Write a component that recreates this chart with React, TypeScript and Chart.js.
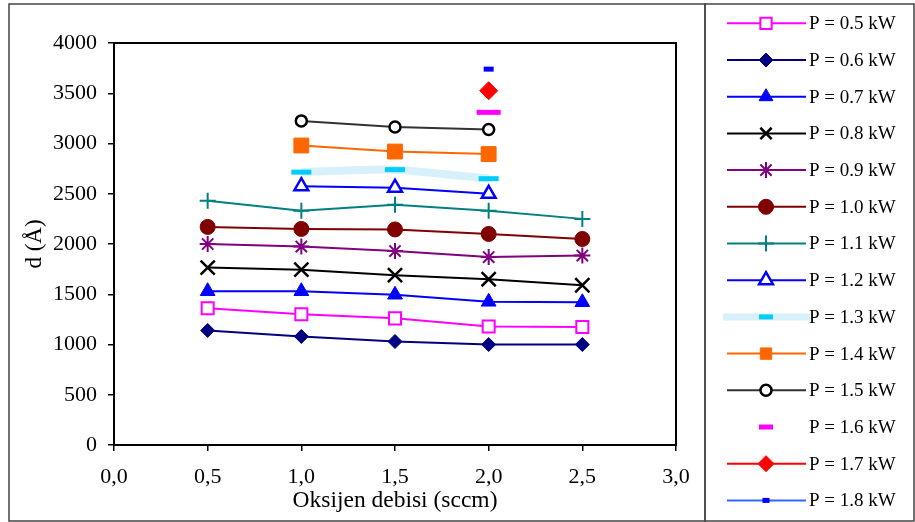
import React, { useEffect, useRef } from 'react';
import { Chart, registerables } from 'chart.js';
import { drawPoint } from 'chart.js/helpers';

Chart.register(...registerables);

// ---- data ----
const oxygenFlow = [0.5, 1.0, 1.5, 2.0, 2.5];
const xTicks = [0, 0.5, 1.0, 1.5, 2.0, 2.5, 3.0];
const yTicks = [0, 500, 1000, 1500, 2000, 2500, 3000, 3500, 4000];

const p05 = [1360, 1300, 1260, 1180, 1175];
const p06 = [1140, 1080, 1030, 1000, 1000];
const p07 = [1530, 1530, 1495, 1425, 1420];
const p08 = [1765, 1745, 1690, 1650, 1590];
const p09 = [2000, 1975, 1930, 1870, 1885];
const p10 = [2170, 2150, 2145, 2100, 2050];
const p11 = [2430, 2330, 2390, 2330, 2250];
const p12 = [null, 2575, 2560, 2500, null];
const p13 = [null, 2715, 2740, 2650, null];
const p14 = [null, 2980, 2920, 2895, null];
const p15 = [null, 3225, 3165, 3140, null];
const p16 = [null, null, null, 3310, null];
const p17 = [null, null, null, 3525, null];
const p18 = [null, null, null, 3740, null];

const seriesLabels = [
  'P = 0.5 kW', 'P = 0.6 kW', 'P = 0.7 kW', 'P = 0.8 kW', 'P = 0.9 kW',
  'P = 1.0 kW', 'P = 1.1 kW', 'P = 1.2 kW', 'P = 1.3 kW', 'P = 1.4 kW',
  'P = 1.5 kW', 'P = 1.6 kW', 'P = 1.7 kW', 'P = 1.8 kW',
];
const seriesValues = [p05, p06, p07, p08, p09, p10, p11, p12, p13, p14, p15, p16, p17, p18];

// ---- styles ----
type Style = {
  line: string; lineWidth: number; showLine: boolean; tension?: number;
  pointStyle: string; radius: number; bg: string; border: string; bw: number;
  legendRadius?: number; legendLineFrom?: number; legendLineTo?: number;
};
const styles: Style[] = [
  { line: '#ff00ff', lineWidth: 2, showLine: true, pointStyle: 'rect', radius: 8.5, bg: '#ffffff', border: '#ff00ff', bw: 2 },
  { line: '#000080', lineWidth: 2, showLine: true, pointStyle: 'rectRot', radius: 7, bg: '#000080', border: '#000080', bw: 1 },
  { line: '#0000ff', lineWidth: 2, showLine: true, pointStyle: 'triangle', radius: 8.5, bg: '#0000ff', border: '#0000ff', bw: 1 },
  { line: '#000000', lineWidth: 2, showLine: true, pointStyle: 'crossRot', radius: 10, bg: '#000000', border: '#000000', bw: 2.5 },
  { line: '#800080', lineWidth: 2, showLine: true, pointStyle: 'star', radius: 8, bg: '#800080', border: '#800080', bw: 2 },
  { line: '#800000', lineWidth: 2, showLine: true, pointStyle: 'circle', radius: 7.5, bg: '#800000', border: '#800000', bw: 1 },
  { line: '#008080', lineWidth: 2, showLine: true, pointStyle: 'cross', radius: 8, bg: '#008080', border: '#008080', bw: 2 },
  { line: '#0000ff', lineWidth: 2, showLine: true, pointStyle: 'triangle', radius: 8, bg: '#ffffff', border: '#0000ff', bw: 2.5 },
  { line: '#d6f1fb', lineWidth: 8, showLine: true, tension: 0.2, pointStyle: 'line', radius: 10, bg: '#00ccff', border: '#00ccff', bw: 5, legendRadius: 7, legendLineFrom: 723, legendLineTo: 810 },
  { line: '#ff6600', lineWidth: 2, showLine: true, pointStyle: 'rect', radius: 10.5, bg: '#ff6600', border: '#ff6600', bw: 1 },
  { line: '#333333', lineWidth: 2, showLine: true, pointStyle: 'circle', radius: 5.5, bg: '#ffffff', border: '#000000', bw: 2.5 },
  { line: '#ff00ff', lineWidth: 2, showLine: false, pointStyle: 'line', radius: 12, bg: '#ff00ff', border: '#ff00ff', bw: 5, legendRadius: 7 },
  { line: '#ff0000', lineWidth: 2, showLine: true, pointStyle: 'rectRot', radius: 9, bg: '#ff0000', border: '#ff0000', bw: 1, legendRadius: 8 },
  { line: '#3366ff', lineWidth: 2, showLine: true, pointStyle: 'line', radius: 5, bg: '#0000ff', border: '#0000ff', bw: 5, legendRadius: 3.5 },
];

const FONT = '"Liberation Serif", "Times New Roman", serif';

const framePlugin = {
  id: 'frameAndLegend',
  afterDraw(chart: any) {
    const ctx = chart.ctx as CanvasRenderingContext2D;
    const { left, top, right, bottom } = chart.chartArea;
    ctx.save();
    // plot box
    ctx.strokeStyle = '#000';
    ctx.lineWidth = 2;
    ctx.strokeRect(left, top, right - left, bottom - top);
    // outer chart and legend frames
    ctx.strokeStyle = '#444';
    ctx.lineWidth = 1.5;
    ctx.strokeRect(9, 4, 696, 517);
    ctx.strokeRect(705, 4, 209, 517);
    // legend
    const ds = chart.data.datasets;
    for (let i = 0; i < ds.length; i++) {
      const st = styles[i];
      const y = 23.3 + i * 36.7;
      if (st.showLine) {
        ctx.strokeStyle = st.line;
        ctx.lineWidth = st.lineWidth === 8 ? 7 : st.lineWidth;
        ctx.beginPath();
        ctx.moveTo(st.legendLineFrom ?? 727, y);
        ctx.lineTo(st.legendLineTo ?? 806, y);
        ctx.stroke();
      }
      ctx.fillStyle = st.bg;
      ctx.strokeStyle = st.border;
      ctx.lineWidth = st.bw;
      drawPoint(ctx, {
        pointStyle: st.pointStyle as any,
        radius: st.legendRadius ?? Math.min(st.radius, 8),
        borderWidth: st.bw,
        rotation: 0,
      } as any, 766, y);
      ctx.fillStyle = '#000';
      ctx.font = `19px ${FONT}`;
      ctx.textAlign = 'left';
      ctx.textBaseline = 'middle';
      ctx.fillText(seriesLabels[i], 809, y + 1);
    }
    ctx.restore();
  },
};

export default function App() {
  const ref = useRef<HTMLCanvasElement | null>(null);
  useEffect(() => {
    if (!ref.current) return;
    const datasets = seriesValues.map((vals, i) => {
      const st = styles[i];
      return {
        label: seriesLabels[i],
        data: oxygenFlow
          .map((x, j) => ({ x, y: vals[j] }))
          .filter((p) => p.y !== null),
        borderColor: st.line,
        borderWidth: st.lineWidth,
        showLine: st.showLine,
        tension: st.tension ?? 0,
        pointStyle: st.pointStyle,
        pointRadius: st.radius,
        pointBackgroundColor: st.bg,
        pointBorderColor: st.border,
        pointBorderWidth: st.bw,
        fill: false,
      };
    });
    const chart = new Chart(ref.current, {
      type: 'line',
      data: { datasets: datasets as any },
      options: {
        responsive: false,
        animation: false,
        events: [],
        layout: { padding: { left: 14, top: 43, right: 239, bottom: 7 } },
        plugins: { legend: { display: false }, tooltip: { enabled: false } },
        scales: {
          x: {
            type: 'linear',
            min: 0,
            max: 3,
            afterFit: (s: any) => { s.height = 70; },
            afterBuildTicks: (s: any) => { s.ticks = xTicks.map((v) => ({ value: v })); },
            ticks: {
              color: '#000',
              font: { family: FONT, size: 22 },
              padding: 13,
              maxRotation: 0,
              autoSkip: false,
              callback: (v: any) => Number(v).toFixed(1).replace('.', ','),
            },
            grid: { drawOnChartArea: false, tickLength: 6, color: '#000', lineWidth: 1.5 },
            border: { color: '#000', width: 2 },
            title: {
              display: true,
              text: 'Oksijen debisi (sccm)',
              color: '#000',
              font: { family: FONT, size: 23.5 },
              padding: { top: 0, bottom: 0 },
            },
          },
          y: {
            type: 'linear',
            min: 0,
            max: 4000,
            afterFit: (s: any) => { s.width = 100; },
            afterBuildTicks: (s: any) => { s.ticks = yTicks.map((v) => ({ value: v })); },
            ticks: {
              color: '#000',
              font: { family: FONT, size: 22 },
              padding: 11,
              autoSkip: false,
              callback: (v: any) => String(v),
            },
            grid: { drawOnChartArea: false, tickLength: 6, color: '#000', lineWidth: 1.5 },
            border: { color: '#000', width: 2 },
            title: {
              display: true,
              text: 'd (Å)',
              color: '#000',
              font: { family: FONT, size: 23 },
              padding: { top: 7, bottom: 0 },
            },
          },
        },
      },
      plugins: [framePlugin],
    });
    return () => chart.destroy();
  }, []);
  return (
    <div style={{ position: 'fixed', left: 0, top: 0, width: 915, height: 522, background: '#fff' }}>
      <canvas ref={ref} width={915} height={522} style={{ display: 'block' }} />
    </div>
  );
}
